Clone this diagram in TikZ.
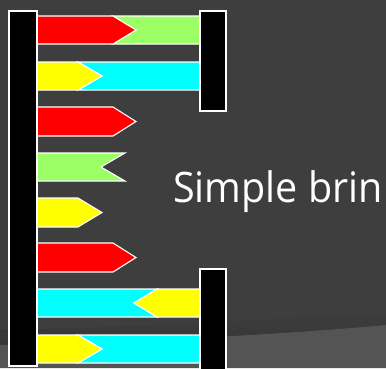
\documentclass[tikz,border=0pt]{standalone}
\usepackage{fontspec}
\setmainfont{Open Sans}
\definecolor{bg}{HTML}{3E3E3E}
\definecolor{band}{HTML}{545454}
\definecolor{shadowc}{HTML}{363636}
\definecolor{pred}{HTML}{FF0000}
\definecolor{pgreen}{HTML}{9CFF66}
\definecolor{pyellow}{HTML}{FFFF00}
\definecolor{pcyan}{HTML}{00FFFF}
\tikzset{
  piece/.style={draw=white, line width=1.1pt, line join=miter},
  barbox/.style={fill=black, draw=white, line width=1.1pt},
  title/.style={text=white, anchor=base west, inner sep=0pt, xscale=0.94, transform shape, font=\fontsize{42}{42}\selectfont}
}
\begin{document}
\begin{tikzpicture}[x=1pt,y=-1pt]
\useasboundingbox (0,0) rectangle (386,368);
\clip (0,0) rectangle (386,368);
% background
\fill[bg] (0,0) rectangle (386,368);
\shade[top color=bg, bottom color=shadowc] (0,330) .. controls (150,327) and (300,318) .. (386,310) -- (386,325) .. controls (300,333) and (150,342) .. (0,345) -- cycle;
\fill[band] (0,345) .. controls (150,342) and (300,333) .. (386,325) -- (386,368) -- (0,368) -- cycle;
% title
\node[title] (title) at (173,202) {Simple brin};
% row 1: red arrow + green
\filldraw[piece, fill=pgreen] (113,16) -- (200,16) -- (200,44) -- (113,44) -- (136,30) -- cycle;
\filldraw[piece, fill=pred] (37,16) -- (113,16) -- (136,30) -- (113,44) -- (37,44) -- cycle;
% row 2: yellow arrow + cyan
\filldraw[piece, fill=pcyan] (78,62) -- (200,62) -- (200,90) -- (78,90) -- (102,76) -- cycle;
\filldraw[piece, fill=pyellow] (37,62) -- (78,62) -- (102,76) -- (78,90) -- (37,90) -- cycle;
% row 3: red arrow
\filldraw[piece, fill=pred] (37,107) -- (113,107) -- (136,121.5) -- (113,136) -- (37,136) -- cycle;
% row 4: green notched
\filldraw[piece, fill=pgreen] (37,153) -- (125,153) -- (101,167) -- (125,181) -- (37,181) -- cycle;
% row 5: yellow arrow
\filldraw[piece, fill=pyellow] (37,198) -- (78,198) -- (102,212.5) -- (78,227) -- (37,227) -- cycle;
% row 6: red arrow
\filldraw[piece, fill=pred] (37,243) -- (113,243) -- (136,257.5) -- (113,272) -- (37,272) -- cycle;
% row 7: cyan + yellow arrow pointing left
\filldraw[piece, fill=pcyan] (37,289) -- (157,289) -- (134,303) -- (157,317) -- (37,317) -- cycle;
\filldraw[piece, fill=pyellow] (157,289) -- (200,289) -- (200,317) -- (157,317) -- (134,303) -- cycle;
% row 8: yellow arrow + cyan
\filldraw[piece, fill=pcyan] (78,335) -- (200,335) -- (200,363) -- (78,363) -- (102,349) -- cycle;
\filldraw[piece, fill=pyellow] (37,335) -- (78,335) -- (102,349) -- (78,363) -- (37,363) -- cycle;
% bars
\filldraw[barbox] (9,11) rectangle (37,366);
\filldraw[barbox] (200,11) rectangle (226,111);
\filldraw[barbox] (200,269) rectangle (226,372);
\end{tikzpicture}
\end{document}
